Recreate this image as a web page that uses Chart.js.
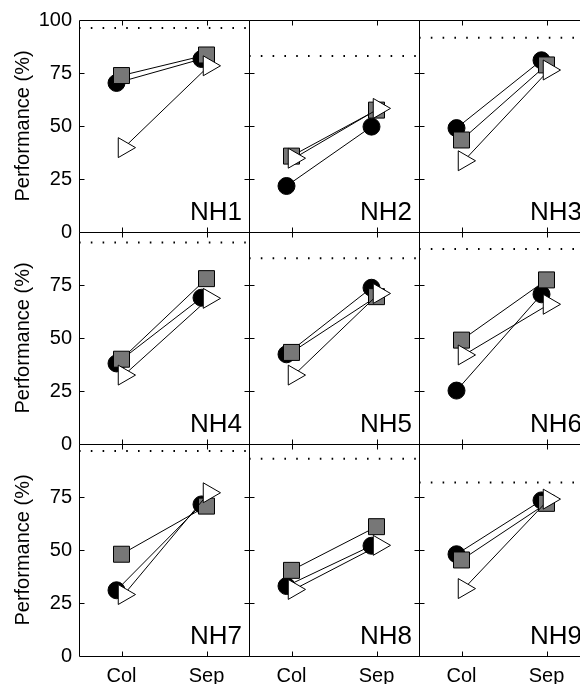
<!DOCTYPE html>
<html>
<head>
<meta charset="utf-8">
<script src="https://cdn.jsdelivr.net/npm/chart.js@4.4.1/dist/chart.umd.min.js"></script>
<style>
  html, body { margin: 0; padding: 0; background: #fff; overflow: hidden; }
  #wrap { position: relative; width: 580px; height: 684px; overflow: hidden; }
  #wrap canvas { position: absolute; }
</style>
</head>
<body>
<div id="wrap"></div>
<script>
// Veriler
const categories = ['Col', 'Sep'];
const panelNames = ['NH1', 'NH2', 'NH3', 'NH4', 'NH5', 'NH6', 'NH7', 'NH8', 'NH9'];
const circleValues = [
    [70.3, 81.6], [21.7, 49.7], [49, 81],
    [38, 69], [42.3, 73.7], [25.2, 70.6],
    [31, 71.5], [33, 52], [48, 73.4]
];
const squareValues = [
    [73.8, 83.5], [35.8, 57.5], [43.4, 78.8],
    [40, 78], [43.2, 69.5], [49, 77.4],
    [48, 70.7], [40.4, 61], [45.3, 72]
];
const triangleValues = [
    [39.8, 78.4], [34.8, 58.3], [33.6, 76.4],
    [32.5, 68.7], [32.5, 71], [42, 65.9],
    [29, 77], [31.4, 52.2], [31.8, 74]
];
const referenceLevels = [96.2, 83, 91.6, 95, 87.6, 92, 96.7, 93, 81.8];
const yTickValues = [0, 25, 50, 75, 100];

// Yerleşim
const colLeft = [79, 249, 419];
const rowTop = [20, 232, 444];
const plotW = 170, plotH = 212;
const axisW = 79, axisH = 28, pad = 14;
const markerShift = { circle: -5, square: 0, triangle: 2.5 }; // px

Chart.defaults.font.family = "'Liberation Sans', Arial, sans-serif";
Chart.defaults.color = '#000';

// Çerçeve, içe dönük tikler ve panel adı
const framePlugin = {
    id: 'frame',
    afterDraw(chart, args, opts) {
        const { ctx, chartArea: a, scales: { x, y } } = chart;
        const L = Math.round(a.left) + 0.5, R = Math.round(a.right) + 0.5;
        const T = Math.round(a.top) + 0.5, B = Math.round(a.bottom) + 0.5;
        ctx.save();
        ctx.strokeStyle = '#000';
        ctx.lineWidth = 1;
        ctx.beginPath();
        ctx.rect(L, T, R - L, B - T);
        categories.forEach((c, i) => {
            const px = Math.round(x.getPixelForValue(i + 1)) + 0.5;
            ctx.moveTo(px, T); ctx.lineTo(px, T + 5);
            ctx.moveTo(px, B); ctx.lineTo(px, B - 5);
        });
        yTickValues.slice(1, -1).forEach(v => {
            const py = Math.round(y.getPixelForValue(v)) + 0.5;
            ctx.moveTo(L, py); ctx.lineTo(L + 5, py);
            ctx.moveTo(R, py); ctx.lineTo(R - 5, py);
        });
        ctx.stroke();
        ctx.font = "26px 'Liberation Sans', Arial, sans-serif";
        ctx.fillStyle = '#000';
        ctx.textAlign = 'right';
        ctx.textBaseline = 'alphabetic';
        ctx.fillText(opts.name, a.right - 7, a.bottom - 12);
        ctx.restore();
    }
};

function series(values, shiftPx) {
    const dx = shiftPx / (plotW / 2);
    return values.map((v, i) => ({ x: i + 1 + dx, y: v }));
}

function noMargins(s) {
    s.paddingTop = 0;
    s.paddingBottom = 0;
    s.paddingLeft = 0;
    s.paddingRight = 0;
}

const wrap = document.getElementById('wrap');

for (let r = 0; r < 3; r++) {
    for (let c = 0; c < 3; c++) {
        const i = r * 3 + c;
        const canvas = document.createElement('canvas');
        const w = (c === 0 ? axisW : 0) + plotW + 2;
        const h = pad + plotH + (r === 2 ? axisH : pad);
        canvas.width = w;
        canvas.height = h;
        canvas.style.left = (c === 0 ? 0 : colLeft[c]) + 'px';
        canvas.style.top = (rowTop[r] - pad) + 'px';
        canvas.style.width = w + 'px';
        canvas.style.height = h + 'px';
        wrap.appendChild(canvas);

        const xScale = {
            type: 'linear',
            min: 0.5,
            max: 2.5,
            display: r === 2,
            afterBuildTicks: s => { s.ticks = [{ value: 1 }, { value: 2 }]; },
            ticks: {
                callback: v => categories[v - 1],
                font: { size: 20 },
                padding: 8,
                maxRotation: 0
            },
            grid: { display: false, drawTicks: false },
            border: { display: false },
            afterFit: s => {
                noMargins(s);
                if (r === 2) s.height = axisH;
            }
        };

        const yScale = {
            min: 0,
            max: 100,
            display: c === 0,
            ticks: {
                stepSize: 25,
                callback: v => (v === 100 && r > 0) ? '' : v,
                font: { size: 20 },
                padding: 7
            },
            grid: { display: false, drawTicks: false },
            border: { display: false },
            title: {
                display: true,
                text: 'Performance (%)',
                font: { size: 20 },
                padding: { top: 11, bottom: 0 }
            },
            afterFit: s => {
                noMargins(s);
                if (c === 0) s.width = axisW;
            }
        };

        new Chart(canvas, {
            type: 'line',
            data: {
                datasets: [{
                    data: [{ x: 0.5, y: referenceLevels[i] }, { x: 2.5, y: referenceLevels[i] }],
                    borderColor: '#000',
                    borderWidth: 2,
                    borderDash: [1.6, 10.2],
                    pointRadius: 0,
                    order: 4
                }, {
                    data: series(circleValues[i], markerShift.circle),
                    borderColor: '#000',
                    borderWidth: 1,
                    pointStyle: 'circle',
                    pointRadius: 8.5,
                    pointBackgroundColor: '#000',
                    pointBorderColor: '#000',
                    pointBorderWidth: 1,
                    order: 3
                }, {
                    data: series(squareValues[i], markerShift.square),
                    borderColor: '#000',
                    borderWidth: 1,
                    pointStyle: 'rect',
                    pointRadius: 11.3,
                    pointBackgroundColor: '#777777',
                    pointBorderColor: '#000',
                    pointBorderWidth: 1,
                    order: 2
                }, {
                    data: series(triangleValues[i], markerShift.triangle),
                    borderColor: '#000',
                    borderWidth: 1,
                    pointStyle: 'triangle',
                    pointRotation: 90,
                    pointRadius: 11.5,
                    pointBackgroundColor: '#fff',
                    pointBorderColor: '#000',
                    pointBorderWidth: 1,
                    order: 1
                }]
            },
            options: {
                responsive: false,
                animation: false,
                devicePixelRatio: 1,
                layout: {
                    autoPadding: false,
                    padding: { top: pad, right: 2, bottom: r === 2 ? 0 : pad, left: 0 }
                },
                scales: { x: xScale, y: yScale },
                plugins: {
                    legend: { display: false },
                    tooltip: { enabled: false },
                    frame: { name: panelNames[i] }
                }
            },
            plugins: [framePlugin]
        });
    }
}
</script>
</body>
</html>
